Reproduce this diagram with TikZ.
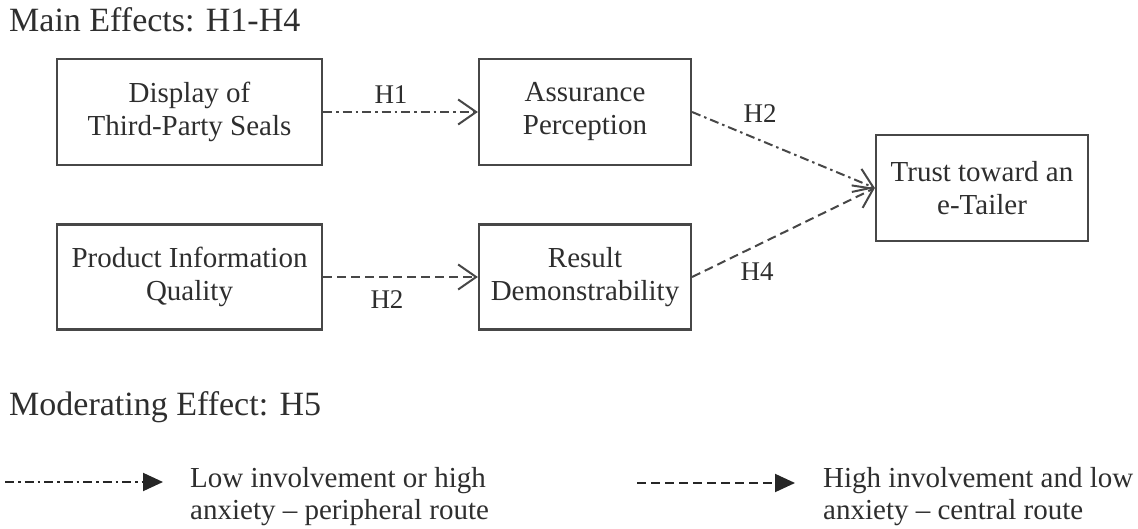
\documentclass[tikz,border=0pt]{standalone}
\usepackage{fontspec}
\setmainfont{Liberation Serif}
\usetikzlibrary{arrows.meta}
\begin{document}
\begin{tikzpicture}[x=1pt,y=-1pt,
  box/.style={draw=black!72, line width=2.2pt, inner sep=0pt, align=center,
    font=\fontsize{29}{33}\selectfont, text=black!82},
  heading/.style={anchor=base west, inner sep=0pt,
    font=\fontsize{34}{40}\selectfont, text=black!82},
  hyp/.style={inner sep=0pt, font=\fontsize{27}{30}\selectfont, text=black!82},
  legendtext/.style={anchor=north west, inner sep=0pt, align=left,
    font=\fontsize{29}{32}\selectfont, text=black!82},
  link/.style={draw=black!72, line width=2pt,
    -{Straight Barb[length=18pt,width=25pt]}},
  dashdotline/.style={dash pattern=on 9pt off 4pt on 2.5pt off 4pt},
  dashline/.style={dash pattern=on 9pt off 5pt},
  keyline/.style={draw=black!85, line width=2pt,
    -{Triangle[length=20pt,width=18pt]}}
]
\useasboundingbox (0,0) rectangle (1138,529);

% section headings
\node[heading] (mainhead) at (9,32) {Main Effects: H1-H4};
\node[heading] (modhead) at (9,415) {Moderating Effect: H5};

% constructs
\node[box, minimum width=265pt, minimum height=106pt] (seals) at (189.5,112) {Display of\\Third-Party Seals};
\node[box, minimum width=212pt, minimum height=106pt] (assur) at (585,112) {Assurance\\Perception};
\node[box, minimum width=265pt, minimum height=105pt] (pinfo) at (189.5,277) {Product Information\\Quality};
\node[box, minimum width=212pt, minimum height=105pt] (result) at (585,277) {Result\\Demonstrability};
\node[box, minimum width=212pt, minimum height=106pt] (trust) at (982,188) {Trust toward an\\e-Tailer};

% hypothesised paths
\draw[link, dashdotline] (seals) -- (assur);
\draw[link, dashline] (pinfo) -- (result);
\draw[link, dashdotline] (assur.east) -- (trust.west);
\draw[link, dashline] (result.east) -- (trust.west);

% path labels
\node[hyp] (h1) at (391,95) {H1};
\node[hyp] (h2a) at (760,114) {H2};
\node[hyp] (h2b) at (387,300) {H2};
\node[hyp] (h4) at (757,272) {H4};

% legend
\coordinate (k1a) at (5,482);
\coordinate (k1b) at (163,482);
\draw[keyline, dashdotline] (k1a) -- (k1b);
\node[legendtext] (k1t) at (190,467) {Low involvement or high\\anxiety – peripheral route};

\coordinate (k2a) at (637,483);
\coordinate (k2b) at (795,483);
\draw[keyline, dashline] (k2a) -- (k2b);
\node[legendtext] (k2t) at (823,467) {High involvement and low\\anxiety – central route};
\end{tikzpicture}
\end{document}
